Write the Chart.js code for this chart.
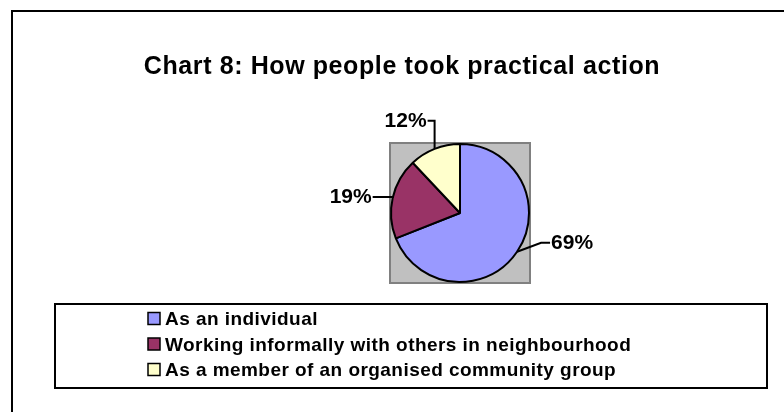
<!DOCTYPE html>
<html lang="en">
<head>
<meta charset="UTF-8">
<title>Chart 8: How people took practical action</title>
<script src="https://cdn.jsdelivr.net/npm/chart.js"></script>
<style>
  html, body { margin: 0; padding: 0; background: #fff; }
  canvas { display: block; }
</style>
</head>
<body>
<canvas id="actionChart" width="784" height="412"></canvas>
<script>
const chartTitle = 'Chart 8: How people took practical action';
const categories = [
    'As an individual',
    'Working informally with others in neighbourhood',
    'As a member of an organised community group'
];
const shares = [69, 19, 12];
const sliceColours = ['#9999FF', '#993366', '#FFFFCC'];

const FONT = '"Liberation Sans", Arial, sans-serif';

// leader line for each percentage label, relative to the edge of its slice
const callouts = [
    { elbow: [24, -9], end: [33, -9], align: 'left' },
    { elbow: [0, -1], end: [-20, -1], align: 'right' },
    { elbow: [0, -28], end: [-7, -28], align: 'right' }
];

// draws text with its cap height centred on y
function capText(ctx, text, x, y, size, align, spacing) {
    ctx.font = 'bold ' + size + 'px ' + FONT;
    if ('letterSpacing' in ctx) ctx.letterSpacing = (spacing || 0) + 'px';
    ctx.textBaseline = 'alphabetic';
    ctx.textAlign = 'left';
    let w = ctx.measureText(text).width;
    let left = x;
    if (align === 'center') left = x - w / 2;
    if (align === 'right') left = x - w;
    ctx.fillText(text, left, y + size * 0.358);
    if ('letterSpacing' in ctx) ctx.letterSpacing = '0px';
}

const decorations = {
    id: 'decorations',
    beforeDraw(chart) {
        const ctx = chart.ctx;
        ctx.save();
        ctx.fillStyle = '#fff';
        ctx.fillRect(0, 0, chart.width, chart.height);

        // outer frame (continues past the right and bottom edge)
        ctx.strokeStyle = '#000';
        ctx.lineWidth = 2;
        ctx.strokeRect(12, 11, chart.width + 20, chart.height + 20);

        ctx.fillStyle = '#000';
        capText(ctx, chartTitle, 402, 65.5, 25, 'center', 0.6);

        // grey plot area behind the pie
        const arc = chart.getDatasetMeta(0).data[0];
        const r = arc.outerRadius + 1;
        ctx.fillStyle = '#C0C0C0';
        ctx.fillRect(arc.x - r, arc.y - r, 2 * r, 2 * r);
        ctx.strokeStyle = '#808080';
        ctx.lineWidth = 2;
        ctx.strokeRect(arc.x - r, arc.y - r, 2 * r, 2 * r);

        // legend box
        ctx.strokeStyle = '#000';
        ctx.lineWidth = 2;
        ctx.strokeRect(55, 304, 712, 84);
        categories.forEach((name, i) => {
            const cy = 318.5 + i * 25.5;
            ctx.fillStyle = sliceColours[i];
            ctx.fillRect(148, cy - 6, 12, 12);
            ctx.lineWidth = 1.5;
            ctx.strokeStyle = '#000';
            ctx.strokeRect(148, cy - 6, 12, 12);
            ctx.fillStyle = '#000';
            capText(ctx, name, 165, cy, 19, 'left', 0.45);
        });
        ctx.restore();
    },
    afterDatasetsDraw(chart) {
        const ctx = chart.ctx;
        ctx.save();
        chart.getDatasetMeta(0).data.forEach((arc, i) => {
            const mid = (arc.startAngle + arc.endAngle) / 2;
            const ex = arc.x + Math.cos(mid) * arc.outerRadius;
            const ey = arc.y + Math.sin(mid) * arc.outerRadius;
            const c = callouts[i];
            ctx.strokeStyle = '#000';
            ctx.lineWidth = 2;
            ctx.beginPath();
            ctx.moveTo(ex, ey);
            ctx.lineTo(ex + c.elbow[0], ey + c.elbow[1]);
            ctx.lineTo(ex + c.end[0], ey + c.end[1]);
            ctx.stroke();
            const tx = ex + c.end[0] + (c.align === 'left' ? 1 : -1);
            ctx.fillStyle = '#000';
            capText(ctx, shares[i] + '%', tx, ey + c.end[1] - 1, 21, c.align, 0);
        });
        ctx.restore();
    }
};

new Chart(document.getElementById('actionChart'), {
    type: 'pie',
    data: {
        labels: categories,
        datasets: [{
            data: shares,
            backgroundColor: sliceColours,
            borderColor: '#000',
            borderWidth: 2,
            radius: 69
        }]
    },
    options: {
        responsive: false,
        animation: false,
        events: [],
        layout: { padding: { left: 391, right: 255, top: 143, bottom: 129 } },
        plugins: {
            legend: { display: false },
            tooltip: { enabled: false }
        }
    },
    plugins: [decorations]
});
</script>
</body>
</html>
